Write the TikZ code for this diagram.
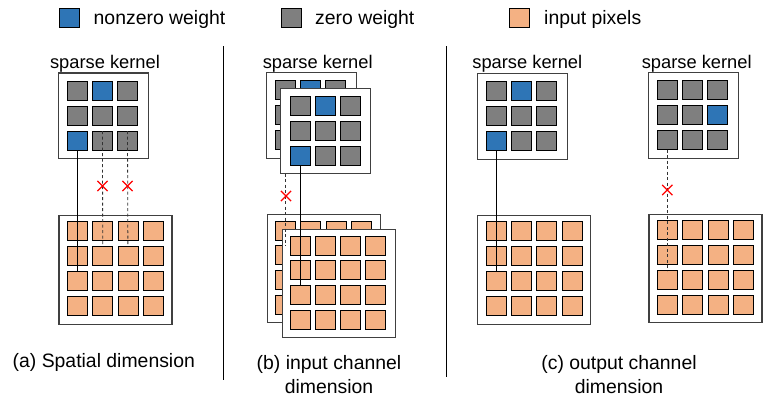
\documentclass[tikz,border=0pt]{standalone}
\usepackage{fontspec}
\setmainfont{Liberation Sans}
\usetikzlibrary{shapes.misc}
\definecolor{nz}{HTML}{2E75B6}
\definecolor{zw}{HTML}{7F7F7F}
\definecolor{px}{HTML}{F4B183}
\definecolor{frm}{HTML}{404040}
\tikzset{
  cell/.style={draw=black, line width=0.8pt, minimum width=20pt, minimum height=19pt, inner sep=0pt, outer sep=0pt},
  kbox/.style={draw=frm, line width=1.1pt, fill=white, inner sep=0pt, outer sep=0pt, minimum width=90pt, minimum height=85.5pt},
  ibox/.style={draw=frm, line width=1.1pt, fill=white, inner sep=0pt, outer sep=0pt, minimum width=113pt, minimum height=108.5pt},
  xmark/.style={cross out, draw=red, line width=1.2pt, minimum size=9pt, inner sep=0pt},
  wire/.style={black, line width=0.8pt},
  zwire/.style={black!80, line width=0.8pt, dash pattern=on 3pt off 2.5pt},
  klabel/.style={font=\fontsize{18.3}{22}\selectfont, inner sep=0pt, anchor=base},
  leg/.style={font=\fontsize{19.4}{23}\selectfont, inner sep=0pt, anchor=base west},
  captext/.style={font=\fontsize{19.4}{24}\selectfont, inner sep=0pt, align=center, anchor=base},
  sepline/.style={black, line width=0.9pt},
}
\begin{document}
\begin{tikzpicture}[x=1pt, y=-1pt]
\useasboundingbox[fill=white] (0,0) rectangle (765,397);

% legend
\node[cell, fill=nz] (lgnz) at (69,17.5) {};
\node[leg] (lgnzt) at (93.5,24) {nonzero weight};
\node[cell, fill=zw] (lgzw) at (291.6,17.5) {};
\node[leg] (lgzwt) at (315,24) {zero weight};
\node[cell, fill=px] (lgpx) at (519.7,17.5) {};
\node[leg] (lgpxt) at (544,24) {input pixels};

% separators
\coordinate (s1t) at (223.3,46); \coordinate (s1b) at (223.3,380);
\coordinate (s2t) at (446,46); \coordinate (s2b) at (446,377);
\draw[sepline] (s1t) -- (s1b);
\draw[sepline] (s2t) -- (s2b);

% ---------- panel (a)
\node[klabel] (akl) at (105,68) {sparse kernel};
\node[kbox] (akb) at (103.75,115.75) {};
\foreach \r/\c/\f in {1/1/zw,1/2/nz,1/3/zw,2/1/zw,2/2/zw,2/3/zw,3/1/nz,3/2/zw,3/3/zw}
  \node[cell, fill=\f] (ak-\r-\c) at ({77.5+25*(\c-1)},{90.5+25*(\r-1)}) {};
\node[ibox] (aib) at (115.5,269.85) {};
\foreach \r in {1,...,4} \foreach \c in {1,...,4}
  \node[cell, fill=px] (ai-\r-\c) at ({77.5+25.2*(\c-1)},{231+25*(\r-1)}) {};
\draw[wire] (ak-3-1.south) -- (ai-3-1.north);
\draw[zwire] (ak-3-2.north) -- (ai-2-2.north);
\draw[zwire] (ak-3-3.north) -- (ai-2-3.north);
\node[xmark] (ax1) at (102.5,186) {};
\node[xmark] (ax2) at (127.5,186) {};
\node[captext] (acap) at (103.8,367) {(a) Spatial dimension};

% ---------- panel (b)
\node[klabel] (bkl) at (317.7,68) {sparse kernel};
\node[kbox] (bbk) at (311.7,115.5) {};
\foreach \r/\c/\f in {1/1/zw,1/2/nz,1/3/zw,2/1/zw,2/2/zw,2/3/zw,3/1/zw,3/2/zw,3/3/zw}
  \node[cell, fill=\f] (bbk-\r-\c) at ({285.5+25*(\c-1)},{90+25*(\r-1)}) {};
\node[kbox] (bfk) at (325.85,130.8) {};
\foreach \r/\c/\f in {1/1/zw,1/2/nz,1/3/zw,2/1/zw,2/2/zw,2/3/zw,3/1/nz,3/2/zw,3/3/zw}
  \node[cell, fill=\f] (bfk-\r-\c) at ({300+25*(\c-1)},{105.5+25*(\r-1)}) {};
\node[ibox] (bbi) at (323.7,268.65) {};
\foreach \r in {1,...,4} \foreach \c in {1,...,4}
  \node[cell, fill=px] (bbi-\r-\c) at ({285.5+25.2*(\c-1)},{230.5+24.8*(\r-1)}) {};
\node[ibox] (bfi) at (339.15,283.3) {};
\foreach \r in {1,...,4} \foreach \c in {1,...,4}
  \node[cell, fill=px] (bfi-\r-\c) at ({300+25.2*(\c-1)},{245.5+24.8*(\r-1)}) {};
\draw[wire] (bfk-3-1.south) -- (bfi-3-1.north);
\draw[zwire] (bbk-3-1 |- bfk.south) -- (bbi-2-1.north);
\node[xmark] (bx1) at (286,196) {};
\node[captext] (bcap) at (329,393) {(b) input channel\\dimension};

% ---------- panel (c)
\node[klabel] (ckl) at (527.3,68) {sparse kernel};
\node[kbox] (ckb) at (522.5,116.5) {};
\foreach \r/\c/\f in {1/1/zw,1/2/nz,1/3/zw,2/1/zw,2/2/zw,2/3/zw,3/1/nz,3/2/zw,3/3/zw}
  \node[cell, fill=\f] (ck-\r-\c) at ({496+25.3*(\c-1)},{90.8+25*(\r-1)}) {};
\node[ibox] (cib) at (534.35,269.85) {};
\foreach \r in {1,...,4} \foreach \c in {1,...,4}
  \node[cell, fill=px] (ci-\r-\c) at ({496+25.4*(\c-1)},{231+25*(\r-1)}) {};
\draw[wire] (ck-3-1.south) -- (ci-3-1.north);

\node[klabel] (dkl) at (696.7,68) {sparse kernel};
\node[kbox] (dkb) at (693.65,115.5) {};
\foreach \r/\c/\f in {1/1/zw,1/2/zw,1/3/zw,2/1/zw,2/2/zw,2/3/nz,3/1/zw,3/2/zw,3/3/zw}
  \node[cell, fill=\f] (dk-\r-\c) at ({667.3+25.2*(\c-1)},{89.9+25.05*(\r-1)}) {};
\node[ibox] (dib) at (705.5,268.5) {};
\foreach \r in {1,...,4} \foreach \c in {1,...,4}
  \node[cell, fill=px] (di-\r-\c) at ({667.3+25.3*(\c-1)},{230+25*(\r-1)}) {};
\draw[zwire] (dk-3-1.south) -- (di-3-1.north);
\node[xmark] (dx1) at (667.3,190) {};
\node[captext] (ccap) at (619,393) {(c) output channel\\dimension};
\end{tikzpicture}
\end{document}
